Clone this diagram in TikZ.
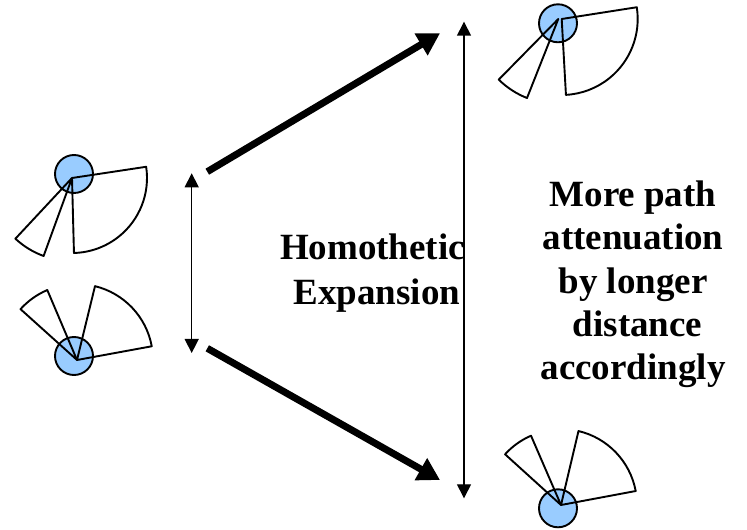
\documentclass[tikz,border=0pt]{standalone}
\usepackage{fontspec}
\setmainfont{Liberation Serif}
\usepackage{tikz}
\usetikzlibrary{arrows.meta, positioning}
\definecolor{antennablue}{RGB}{153, 204, 255}

\begin{document}
\begin{tikzpicture}[x=1pt, y=1pt,
  beam/.style={line width=1.9pt, line join=round},
  antennabody/.style={fill=antennablue, draw=black, line width=1.9pt},
  bigarrow/.style={line width=7pt, -{Triangle[length=22pt, width=24pt]}},
  spanarrow/.style={line width=1.4pt, {Triangle[length=14pt, width=14pt]}-{Triangle[length=14pt, width=14pt]}},
  bigtext/.style={font=\fontsize{37}{45}\selectfont\bfseries, align=center}]
\useasboundingbox (0,0) rectangle (747,530);

% small pattern, upper antenna
\draw[antennabody] (74,356) circle[radius=19];
\draw[beam] (72,352) -- ++(8.6:75) arc[start angle=8.6, end angle=-88.5, radius=75] -- cycle;
\draw[beam] (72,352) -- ++(227:83) arc[start angle=227, end angle=250, radius=83] -- cycle;

% small pattern, lower antenna
\draw[antennabody] (74,174) circle[radius=19];
\draw[beam] (77,170) -- ++(10.4:76) arc[start angle=10.4, end angle=76.3, radius=76] -- cycle;
\draw[beam] (77,170) -- ++(113:76) arc[start angle=113, end angle=138, radius=76] -- cycle;

% expanded pattern, upper antenna
\draw[antennabody] (558,506.7) circle[radius=19];
\draw[beam] (561.7,511) -- ++(8.9:76) arc[start angle=8.9, end angle=-86.8, radius=76] -- cycle;
\draw[beam] (558.3,511) -- ++(225.5:85) arc[start angle=225.5, end angle=248.4, radius=85] -- cycle;

% expanded pattern, lower antenna
\draw[antennabody] (558,21.7) circle[radius=19];
\draw[beam] (561,25) -- ++(10.6:76) arc[start angle=10.6, end angle=76.7, radius=76] -- cycle;
\draw[beam] (561,25) -- ++(113.4:75.5) arc[start angle=113.4, end angle=137.8, radius=75.5] -- cycle;

% distances
\coordinate (nearUp) at (191.7,356.7);
\coordinate (nearDown) at (191.7,177);
\coordinate (farUp) at (464,508.3);
\coordinate (farDown) at (464,31.7);
\draw[spanarrow] (nearUp) -- (nearDown);
\draw[spanarrow] (farUp) -- (farDown);

% expansion arrows
\coordinate (upStart) at (207.3,358.3);
\coordinate (upEnd) at (440,496.7);
\coordinate (downStart) at (207.3,181.7);
\coordinate (downEnd) at (440,50);
\draw[bigarrow] (upStart) -- (upEnd);
\draw[bigarrow] (downStart) -- (downEnd);

\node[bigtext] (homothetic) at (372.5,256.5) {Homothetic\\\hspace*{9pt}Expansion};
\node[bigtext, font=\fontsize{37}{43.3}\selectfont\bfseries] (attenuation) at (633,245.5)
  {More path\\attenuation\\by longer\\\hspace*{9pt}distance\\accordingly};

\end{tikzpicture}
\end{document}
